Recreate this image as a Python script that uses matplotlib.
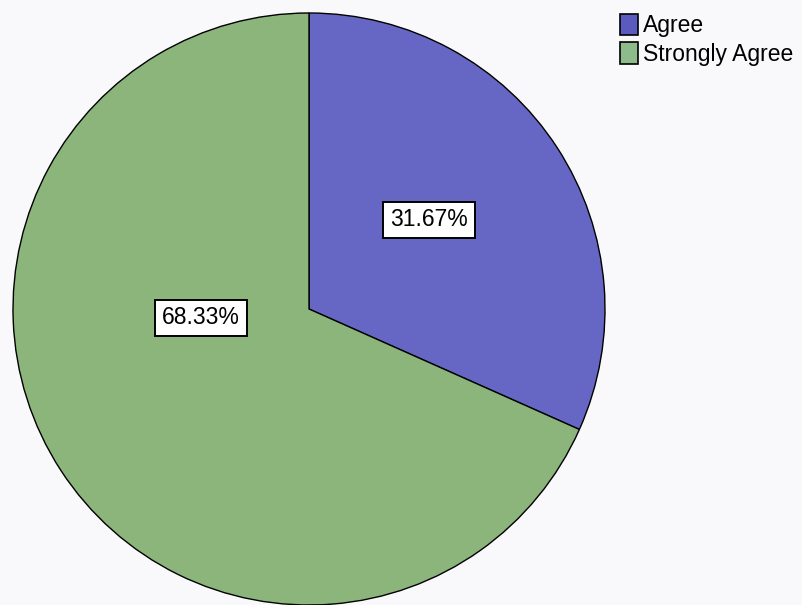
import matplotlib
matplotlib.use("Agg")
import matplotlib.pyplot as plt
from matplotlib.patches import Patch

categories = ["Agree", "Strongly Agree"]
percentages = [31.67, 68.33]
colors = ["#6666c4", "#8cb57c"]
legend_colors = ["#5a5abf", "#8dbb8c"]

# pixel geometry of the pie in the 802x605 figure
W, H = 802, 605
cx, cy, r = 309, 309, 296
# label box centers (pixels)
label_px = [(429, 220), (201, 318)]

plt.rcParams["font.family"] = ["Liberation Sans", "DejaVu Sans"]

fig = plt.figure(figsize=(W / 100, H / 100), dpi=100)
fig.patch.set_facecolor("#f9f9fb")
ax = fig.add_axes([0, 0, 1, 1])
ax.set_facecolor("none")

wedges, _ = ax.pie(
    percentages,
    colors=colors,
    startangle=90,
    counterclock=False,
    radius=1.0,
    wedgeprops=dict(edgecolor="black", linewidth=1.0),
)

for (px, py), pct in zip(label_px, percentages):
    ax.text(
        (px - cx) / r,
        (cy - py) / r,
        f"{pct:.2f}%",
        ha="center",
        va="center",
        fontsize=16.5,
        bbox=dict(boxstyle="square,pad=0.3", facecolor="white", edgecolor="black", linewidth=1.4),
    )

ax.set_xlim(-cx / r, (W - cx) / r)
ax.set_ylim(-(H - cy) / r, cy / r)
ax.set_aspect("auto")
ax.axis("off")

handles = [Patch(facecolor=c, edgecolor="black", linewidth=1.2) for c in legend_colors]
fig.legend(
    handles,
    categories,
    loc="upper left",
    bbox_to_anchor=(620 / W, 1 - 14 / H),
    frameon=False,
    fontsize=16.5,
    handlelength=0.8,
    handleheight=1.05,
    handletextpad=0.2,
    labelspacing=0.22,
    borderpad=0,
    borderaxespad=0,
)

fig.savefig("out.png", dpi=100, facecolor=fig.get_facecolor())
